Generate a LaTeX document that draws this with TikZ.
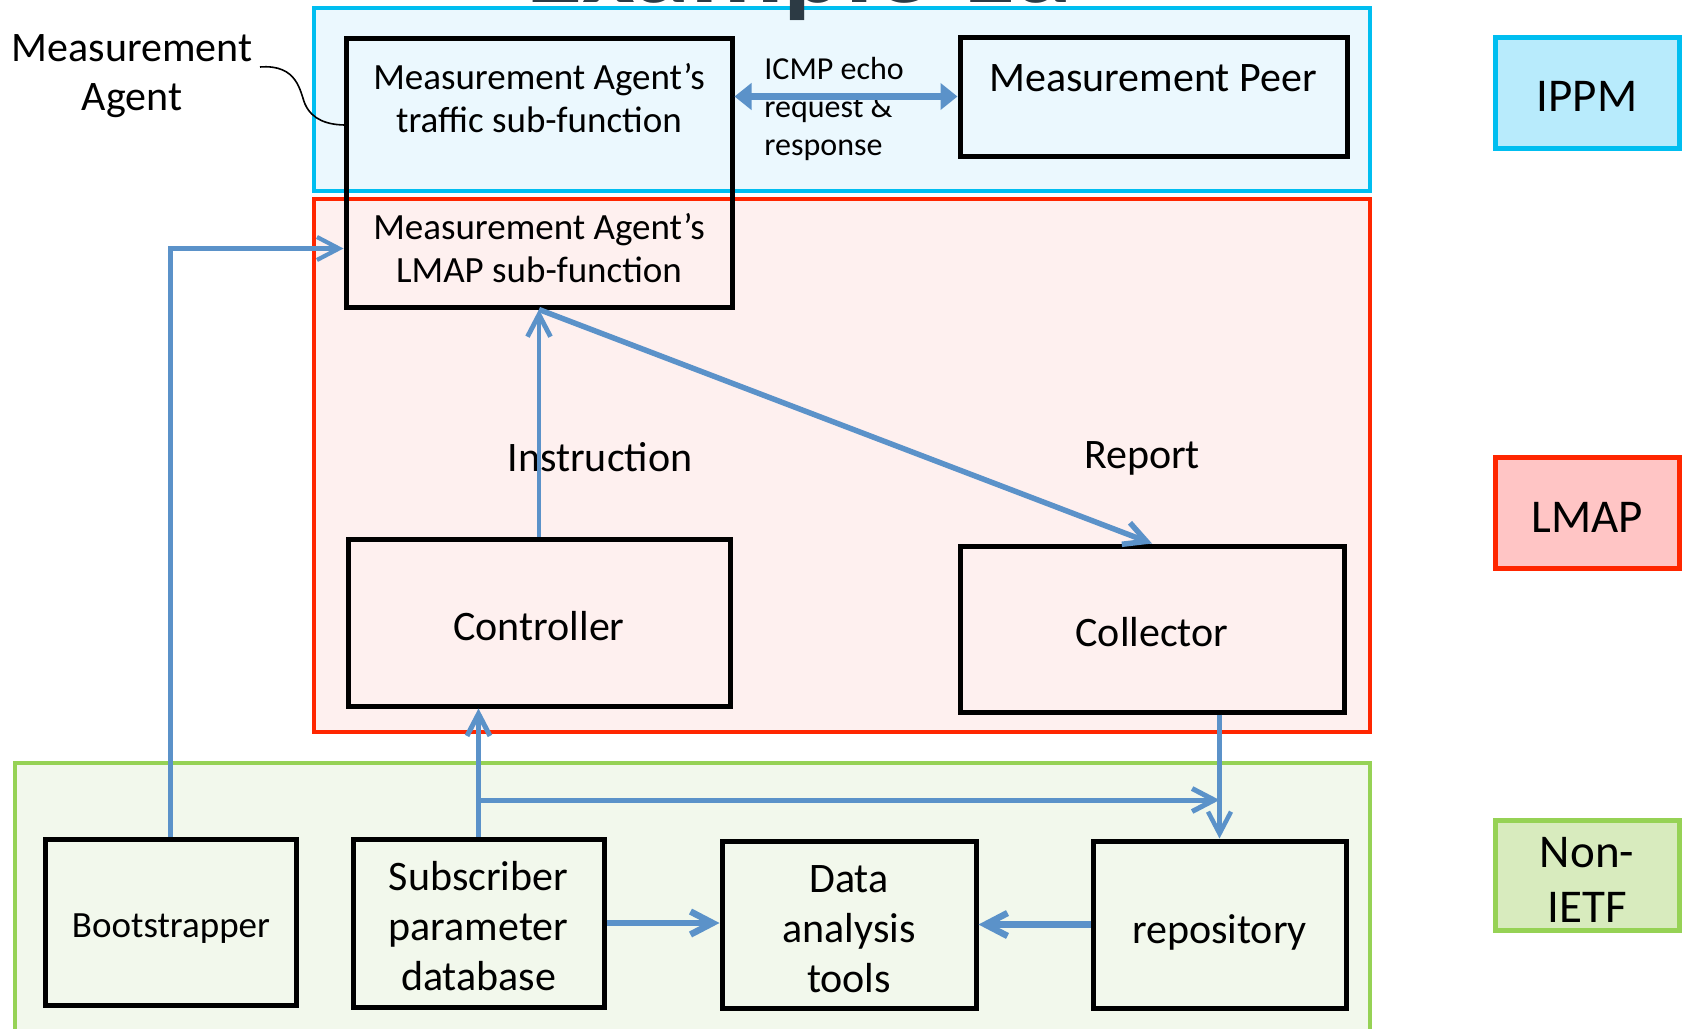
\documentclass[tikz,border=0pt]{standalone}
\usepackage{fontspec}
\setmainfont{Carlito}
\usetikzlibrary{arrows.meta}

\definecolor{ippmline}{RGB}{0,190,240}
\definecolor{ippmfill}{RGB}{235,248,254}
\definecolor{ippmkey}{RGB}{184,235,252}
\definecolor{lmapline}{RGB}{255,38,0}
\definecolor{lmapfill}{RGB}{254,240,239}
\definecolor{lmapkey}{RGB}{255,197,197}
\definecolor{otherline}{RGB}{150,210,85}
\definecolor{otherfill}{RGB}{242,248,236}
\definecolor{otherkey}{RGB}{216,235,190}
\definecolor{linkblue}{RGB}{91,146,201}
\definecolor{titlegray}{RGB}{44,58,68}

\newcommand{\fs}[2]{\fontsize{#1}{#2}\selectfont}

\tikzset{
  zone/.style={line width=2pt},
  blk/.style={draw=black, line width=2.5pt, inner sep=0pt},
  txt/.style={inner sep=0pt, align=center},
  key/.style={line width=2.5pt, inner sep=0pt, minimum width=92pt, minimum height=55.5pt},
  keytxt/.style={txt, font=\fs{23.5}{27.5}},
  link/.style={draw=linkblue, line width=2.5pt},
  barb/.style={-{Straight Barb[length=11pt,width=11.5pt]}},
  tri/.style={{Triangle[length=8.5pt,width=13pt]}-{Triangle[length=8.5pt,width=13pt]}},
}

\begin{document}
\begin{tikzpicture}[x=0.5pt,y=-0.5pt]
\useasboundingbox (0,0) rectangle (1684,1028);

% working-group regions
\draw[zone, draw=ippmline, fill=ippmfill] (314,8) rectangle (1370,191);
\draw[zone, draw=lmapline, fill=lmapfill] (314,199) rectangle (1370,732);
\draw[zone, draw=otherline, fill=otherfill] (15,763) rectangle (1370,1045);

% heading
\node[anchor=base west, inner sep=0pt, font=\fs{57.5}{60}\bfseries, text=titlegray] (title) at (526,3) {Example 1a};

% measurement agent spanning both regions
\node[blk, minimum width=193pt, minimum height=134.5pt] (ma) at (539,172.5) {};
\node[txt, font=\fs{18.5}{21.5}] (matraffic) at (539,98.5) {Measurement Agent’s\\traffic sub-function};
\node[txt, font=\fs{18.5}{21.5}] (malmap) at (539,248.5) {Measurement Agent’s\\LMAP sub-function};

\node[txt, font=\fs{21}{24.5}] (malabel) at (132,76) {Measurement\\Agent};
\coordinate (labelend) at (260,67);
\coordinate (maside) at (346,125);
\draw[black, line width=0.8pt] (labelend) .. controls (298,64) and (300,92) .. (305,104)
  .. controls (312,120) and (328,125) .. (maside);

% IPPM peer
\node[blk, minimum width=193.5pt, minimum height=59.5pt] (peer) at (1153.5,96.5) {};
\node[txt, font=\fs{21}{24}] (peertxt) at (1153,78) {Measurement Peer};
\node[anchor=west, align=left, inner sep=0pt, font=\fs{16}{19}] (icmp) at (764,109) {ICMP echo\\request \&\\response};

% LMAP components
\node[blk, minimum width=191pt, minimum height=83.5pt] (ctrl) at (539,622.5) {};
\node[txt, font=\fs{21}{24}] (ctrltxt) at (539,626) {Controller};
\node[blk, minimum width=192pt, minimum height=83pt] (coll) at (1152,629) {};
\node[txt, font=\fs{21}{24}] (colltxt) at (1152,632.5) {Collector};
\node[txt, font=\fs{21}{24}] (instr) at (600,457) {Instruction};
\node[txt, font=\fs{21}{24}] (report) at (1142,458) {Report};

% non-IETF components
\node[blk, minimum width=125.5pt, minimum height=83pt] (boot) at (170.5,922) {};
\node[txt, font=\fs{18.5}{22}] (boottxt) at (171,928.5) {Bootstrapper};
\node[blk, minimum width=125.5pt, minimum height=84pt] (sub) at (478.5,923) {};
\node[txt, font=\fs{21}{25}] (subtxt) at (478.5,926.5) {Subscriber\\parameter\\database};
\node[blk, minimum width=127pt, minimum height=83.5pt] (data) at (849,924.5) {};
\node[txt, font=\fs{21}{25}] (datatxt) at (849,929) {Data\\analysis\\tools};
\node[blk, minimum width=126.5pt, minimum height=83.5pt] (repo) at (1219.5,924.5) {};
\node[txt, font=\fs{21}{25}] (repotxt) at (1219.5,932) {repository};

% legend
\node[key, draw=ippmline, fill=ippmkey] (kippm) at (1587,92.5) {};
\node[keytxt] (kippmtxt) at (1587,96) {IPPM};
\node[key, draw=lmapline, fill=lmapkey] (klmap) at (1587,512.5) {};
\node[keytxt] (klmaptxt) at (1587,517) {LMAP};
\node[key, draw=otherline, fill=otherkey, minimum height=55pt] (kother) at (1587,875) {};
\node[keytxt] (kothertxt) at (1587,879.5) {Non-\\IETF};

% connectors
\draw[link, line width=3.25pt, tri] (ma.east |- peer.west) -- (peer.west);
\draw[link, line width=2.1pt, barb] (boot.north) |- (ma.west |- malmap);
\draw[link, line width=2.4pt, barb] (ctrl.north) -- (ma.south);
\draw[link, line width=2.75pt, barb] (ma.south) -- (coll.north);
\draw[link, line width=2.5pt, barb] (sub.north) -- (sub.north |- ctrl.south);
\coordinate (split) at (sub.north |- 0,800);
\draw[link, line width=2.5pt, barb] (split) -- (split -| repo.north);
\draw[link, line width=2.25pt, barb] (repo.north |- coll.south) -- (repo.north);
\draw[link, line width=3.25pt, barb] (sub.east) -- (data.west |- sub.east);
\draw[link, line width=3.25pt, barb] (repo.west) -- (data.east |- repo.west);
\end{tikzpicture}
\end{document}
